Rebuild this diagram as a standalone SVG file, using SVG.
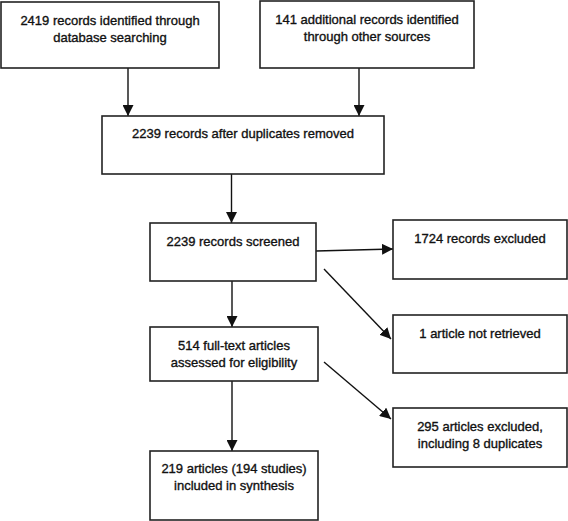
<svg xmlns="http://www.w3.org/2000/svg" width="568" height="521" viewBox="0 0 568 521">
<style>
.box{fill:#fff;stroke:#222;stroke-width:1.6}
.t{font-family:"Liberation Sans",Arial,sans-serif;font-size:13px;fill:#111;stroke:#111;stroke-width:0.35;text-anchor:middle}
.c{stroke:#111;stroke-width:1.4;fill:none;marker-end:url(#ah)}
</style>
<defs>
<marker id="ah" markerUnits="userSpaceOnUse" markerWidth="11" markerHeight="11" refX="11" refY="5.5" orient="auto">
<path d="M0,0 L11,5.5 L0,11 z" fill="#111"/>
</marker>
</defs>
<rect width="568" height="521" fill="#fff"/>
<g id="connectors">
<line class="c" x1="128" y1="68" x2="128" y2="116"/>
<line class="c" x1="359" y1="68" x2="359" y2="116"/>
<line class="c" x1="231.5" y1="174" x2="231.5" y2="223"/>
<line class="c" x1="232" y1="281" x2="232" y2="327"/>
<line class="c" x1="232" y1="381" x2="232" y2="451"/>
<line class="c" x1="316" y1="251" x2="393" y2="249"/>
<line class="c" x1="324" y1="269" x2="391" y2="339"/>
<line class="c" x1="324" y1="362" x2="391" y2="419"/>
</g>
<g id="n1"><rect class="box" x="1" y="2" width="218" height="66"/>
<text class="t" x="110" y="25">2419 records identified through</text>
<text class="t" x="110" y="42">database searching</text></g>
<g id="n2"><rect class="box" x="260" y="1" width="214" height="67"/>
<text class="t" x="367" y="24">141 additional records identified</text>
<text class="t" x="367" y="41">through other sources</text></g>
<g id="n3"><rect class="box" x="102" y="116" width="282" height="58"/>
<text class="t" x="243" y="138">2239 records after duplicates removed</text></g>
<g id="n4"><rect class="box" x="150" y="223" width="166" height="58"/>
<text class="t" x="233" y="246">2239 records screened</text></g>
<g id="n5"><rect class="box" x="393" y="220" width="174" height="59"/>
<text class="t" x="480" y="243">1724 records excluded</text></g>
<g id="n6"><rect class="box" x="393" y="315" width="174" height="58"/>
<text class="t" x="480" y="338">1 article not retrieved</text></g>
<g id="n7"><rect class="box" x="150" y="327" width="168" height="54"/>
<text class="t" x="234" y="350">514 full-text articles</text>
<text class="t" x="234" y="367">assessed for eligibility</text></g>
<g id="n8"><rect class="box" x="393" y="408" width="174" height="59"/>
<text class="t" x="480" y="431">295 articles excluded,</text>
<text class="t" x="480" y="448">including 8 duplicates</text></g>
<g id="n9"><rect class="box" x="150" y="451" width="168" height="69"/>
<text class="t" x="234" y="473">219 articles (194 studies)</text>
<text class="t" x="234" y="490">included in synthesis</text></g>
</svg>
